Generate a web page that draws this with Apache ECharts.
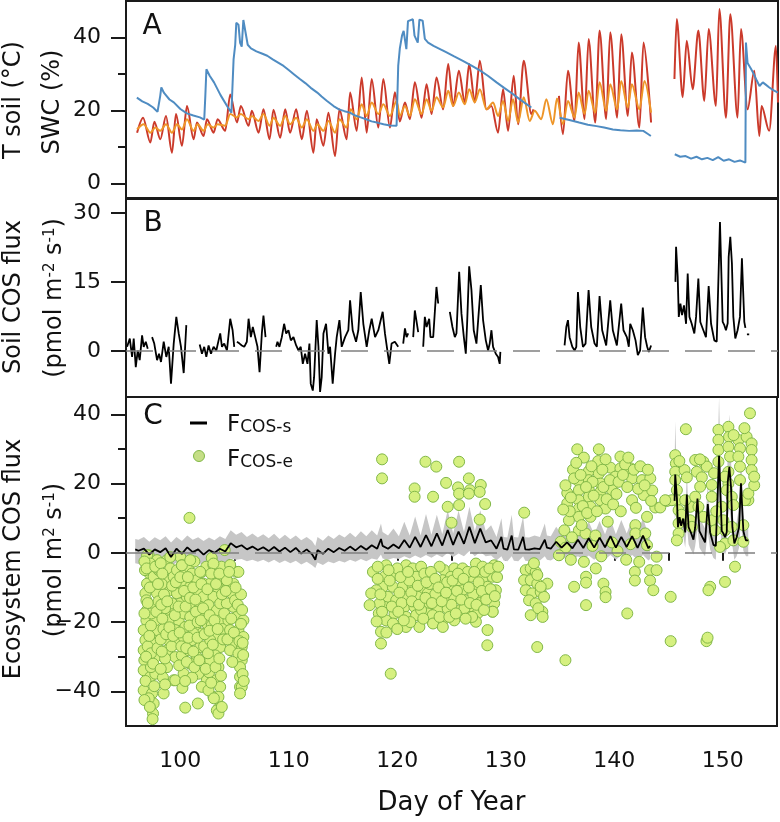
<!DOCTYPE html>
<html><head><meta charset="utf-8">
<script src="https://cdn.jsdelivr.net/npm/echarts@6/dist/echarts.min.js"></script>
<style>html,body{margin:0;padding:0;background:#fff}#c{width:780px;height:822px}</style>
</head><body><div id="c"></div>
<script>
// ---------- axis ticks ----------
const xMin = 95, xMax = 155;
const aTicks = [0, 20, 40], aMinor = [10, 30];
const bTicks = [0, 15, 30];
const cTicks = [-40, -20, 0, 20, 40], cMinor = [-30, -10, 10, 30];

// ---------- Panel A: SWC (blue), T soil (red, orange) ----------
const swcBlue = [[96.0,23.5],[96.5,22.5],[97.0,21.8],[97.5,20.8],[97.9,19.6],[98.05,19.5],[98.15,24.0],[98.25,26.3],[98.5,24.8],[99.0,23.0],[99.4,22.2],[100.0,20.4],[100.6,19.2],[101.2,18.6],[101.8,18.1],[102.2,17.5],[102.3,24.0],[102.4,31.3],[102.7,29.5],[103.1,27.7],[103.7,24.2],[104.3,21.2],[104.7,19.4],[104.85,19.2],[104.9,34.0],[105.05,38.0],[105.15,44.0],[105.35,43.5],[105.5,38.5],[105.65,37.5],[105.8,44.8],[105.95,45.0],[106.2,38.0],[106.5,37.0],[107.0,36.2],[107.5,35.6],[108.0,35.0],[108.5,34.0],[109.0,33.1],[109.5,32.2],[110.0,31.0],[110.5,29.8],[111.0,28.6],[111.5,27.5],[112.0,26.2],[112.6,24.9],[113.0,23.8],[113.5,22.6],[114.1,21.2],[114.6,20.3],[115.1,19.8],[115.6,19.4],[116.1,18.6],[116.6,18.1],[117.1,17.6],[117.6,17.0],[118.2,16.6],[118.7,16.2],[119.3,15.9],[119.9,15.8],[120.0,16.0],[120.05,32.2],[120.2,37.0],[120.4,40.5],[120.55,41.8],[120.8,36.8],[120.95,44.5],[121.05,45.0],[121.4,45.0],[121.55,40.5],[121.85,38.6],[122.0,44.9],[122.3,44.6],[122.5,39.6],[122.8,38.6],[123.3,37.7],[123.9,36.8],[124.5,35.9],[125.2,34.8],[126.0,33.6],[126.8,32.3],[127.6,30.9],[128.3,29.5],[129.1,27.7],[129.8,26.2],[130.6,24.5],[131.4,22.7],[132.3,20.8],[133.5,null],[134.9,18.0],[135.8,17.4],[136.7,16.7],[137.5,16.1],[138.3,15.7],[139.0,15.3],[139.8,14.8],[140.5,14.6],[141.3,14.4],[142.0,14.5],[142.6,14.4],[143.0,13.6],[143.3,13.0],[144.4,null],[145.5,8.0],[146.0,7.3],[146.5,7.5],[147.0,6.8],[147.5,7.3],[148.0,6.6],[148.5,7.0],[149.0,6.4],[149.5,7.2],[150.0,6.2],[150.5,6.6],[151.0,5.9],[151.5,6.3],[152.0,5.7],[152.05,38.6],[152.2,33.0],[152.5,31.5],[152.7,30.4],[153.0,28.5],[153.3,26.7],[153.6,27.7],[153.9,27.0],[154.2,26.3],[154.6,25.5],[155.0,24.9]];

const tSoilRed = [[96.02,13.9],[96.57,18.0],[97.24,11.2],[97.61,16.9],[98.16,12.1],[98.68,18.5],[99.23,8.4],[99.6,19.0],[100.15,10.3],[100.61,21.2],[101.22,12.1],[101.53,16.7],[102.14,13.0],[102.45,17.6],[103.06,13.9],[103.43,17.6],[104.13,14.4],[104.59,24.4],[105.21,16.7],[105.57,21.2],[106.28,15.8],[106.58,19.9],[107.2,13.9],[107.65,20.3],[108.21,12.1],[108.57,20.2],[109.19,12.5],[109.65,20.3],[110.1,13.9],[110.66,20.3],[111.18,12.1],[111.64,19.9],[112.25,8.4],[112.55,17.6],[113.17,10.3],[113.63,19.4],[114.24,7.5],[114.64,20.3],[115.31,12.1],[115.62,24.9],[116.23,14.4],[116.69,29.0],[117.15,13.9],[117.61,28.6],[118.22,15.3],[118.68,28.6],[119.29,15.3],[119.75,25.0],[120.2,17.0],[120.67,22.2],[121.13,17.6],[121.58,27.7],[122.2,18.0],[122.66,27.2],[123.12,19.0],[123.57,29.0],[124.19,20.3],[124.65,32.7],[125.11,21.2],[125.63,30.9],[126.18,22.2],[126.58,32.7],[127.1,22.2],[127.56,33.6],[128.17,20.3],[128.63,21.2],[129.24,13.9],[129.7,25.8],[130.16,14.4],[130.68,29.5],[131.08,16.2],[131.6,33.6],[132.3,19.0],[132.5,20.3],[133.6,null],[134.84,24.0],[135.21,13.5],[135.67,30.9],[136.28,17.1],[136.65,38.6],[137.2,17.6],[137.57,39.6],[138.18,16.7],[138.58,41.9],[139.19,17.6],[139.56,41.4],[140.2,18.0],[140.57,40.9],[141.18,18.5],[141.55,35.9],[142.25,15.3],[142.62,38.6],[143.32,16.7],[144.4,null],[145.47,28.6],[145.68,45.1],[146.23,23.6],[146.6,39.1],[147.15,25.8],[147.67,41.9],[148.22,22.6],[148.62,42.3],[149.29,21.2],[149.6,47.8],[150.21,18.0],[150.61,46.4],[151.28,18.0],[151.59,42.3],[152.2,20.3],[152.82,30.9],[153.28,13.0],[153.49,21.2],[154.19,14.4],[154.81,37.7],[155.0,22.2]];

const tSoilOrange = [[96.02,14.8],[96.63,16.2],[97.24,13.9],[97.7,15.3],[98.16,14.4],[98.68,16.2],[99.23,13.9],[99.69,16.2],[100.15,14.8],[100.61,17.6],[101.22,14.4],[101.59,16.2],[102.14,14.4],[102.51,16.2],[103.06,15.3],[103.43,16.2],[104.13,15.8],[104.59,19.0],[105.21,18.1],[105.57,19.0],[106.28,17.6],[106.58,18.5],[107.2,17.1],[107.65,19.0],[108.21,15.8],[108.57,18.0],[109.19,15.8],[109.65,18.5],[110.1,16.2],[110.66,18.0],[111.18,15.3],[111.64,17.6],[112.25,14.4],[112.61,16.2],[113.17,14.4],[113.63,17.1],[114.24,13.9],[114.64,17.6],[115.31,15.3],[115.68,20.3],[116.23,17.6],[116.69,21.7],[117.15,18.5],[117.61,22.2],[118.22,19.0],[118.68,21.7],[119.29,18.5],[119.9,22.6],[120.2,18.5],[120.67,21.2],[121.13,18.5],[121.58,23.1],[122.2,19.0],[122.66,23.1],[123.12,19.9],[123.57,23.6],[124.19,20.8],[124.65,25.4],[125.11,21.2],[125.63,24.9],[126.18,21.7],[126.58,25.8],[127.1,22.2],[127.56,25.8],[128.17,20.3],[128.78,22.2],[129.24,18.5],[129.7,22.6],[130.16,17.1],[130.62,23.1],[131.08,16.7],[131.6,23.6],[132.15,17.1],[132.61,19.9],[133.22,17.6],[133.68,23.1],[134.29,16.2],[134.66,23.3],[135.21,16.2],[135.67,22.6],[136.28,18.0],[136.65,24.9],[137.2,19.0],[137.57,25.4],[138.18,19.4],[138.58,27.7],[139.19,19.9],[139.56,27.2],[140.2,20.3],[140.57,28.1],[141.18,20.8],[141.55,27.2],[142.25,20.3],[142.71,28.1],[143.32,19.4]];

// ---------- Panel B: soil COS flux ----------
const soilFlux = [[95.1,0.9],[95.35,2.7],[95.56,-1.3],[95.71,2.7],[95.9,-3.5],[96.08,0.1],[96.26,-2.0],[96.48,3.4],[96.63,0.9],[96.82,2.0],[97.0,0.5],[97.2,null],
[97.4,3.0],[97.6,1.6],[97.86,-2.0],[98.04,-0.6],[98.22,-2.4],[98.47,2.0],[98.71,-1.3],[98.93,0.9],[99.14,-7.1],[99.39,1.6],[99.63,7.4],[99.85,3.8],[100.06,0.9],[100.31,-4.8],[100.55,5.6],[101.2,null],
[101.78,1.4],[101.99,-0.6],[102.2,0.9],[102.39,-1.3],[102.6,1.2],[102.82,-0.6],[103.06,0.9],[103.31,0.1],[103.52,2.3],[103.67,3.8],[103.83,0.9],[104.04,1.6],[104.29,0.1],[104.59,7.0],[104.81,4.5],[104.96,0.9],[105.1,null],
[105.21,2.0],[105.45,1.6],[105.66,1.2],[105.88,0.9],[106.12,2.0],[106.28,7.0],[106.49,3.0],[106.67,5.2],[106.89,3.0],[107.1,0.9],[107.29,-4.6],[107.5,3.8],[107.65,7.7],[107.84,3.0],[108.3,null],
[108.82,0.9],[108.94,2.0],[109.12,0.9],[109.34,3.0],[109.55,5.9],[109.74,3.8],[109.95,4.5],[110.17,2.3],[110.41,3.0],[110.66,1.2],[110.87,0.1],[111.08,0.9],[111.27,-2.8],[111.48,-0.6],[111.7,-2.8],[111.88,1.6],[112.0,-7.1],[112.19,-8.6],[112.31,-5.7],[112.55,6.7],[112.71,0.9],[112.86,-8.9],[113.01,-5.7],[113.17,3.8],[113.41,5.9],[113.63,-0.6],[113.78,0.9],[114.02,-7.1],[114.24,-0.6],[114.39,3.0],[114.64,6.7],[114.85,0.9],[115.16,3.0],[115.46,4.5],[115.62,11.0],[115.86,4.5],[116.17,2.0],[116.38,4.5],[116.6,12.8],[116.84,5.9],[117.15,0.9],[117.39,4.5],[117.61,7.0],[117.92,3.0],[118.22,4.5],[118.62,8.5],[118.83,3.8],[119.05,0.1],[119.23,-2.8],[119.44,1.6],[119.74,2.0],[120.05,0.9],[120.3,null],
[120.51,1.6],[120.67,4.9],[120.82,3.0],[120.97,3.8],[121.2,null],
[121.43,3.0],[121.58,8.8],[121.74,9.2],[121.89,4.1],[122.1,null],
[122.35,0.9],[122.5,7.4],[122.66,5.2],[122.9,7.0],[123.02,3.0],[123.27,3.0],[123.42,3.0],[123.57,13.9],[123.73,10.3],[124.3,null],
[124.8,8.5],[125.04,5.2],[125.26,3.0],[125.41,3.8],[125.66,17.2],[125.87,8.1],[126.09,3.0],[126.27,-0.6],[126.39,5.9],[126.58,18.4],[126.79,13.2],[127.0,4.5],[127.25,1.6],[127.43,7.4],[127.65,14.3],[127.86,6.7],[128.11,2.3],[128.32,0.1],[128.47,1.6],[128.63,4.5],[128.78,0.9],[129.03,-0.6],[129.24,-1.3],[129.39,-2.8],[129.45,-0.2],[132.0,null],
[135.36,1.2],[135.52,5.2],[135.67,6.7],[135.82,3.0],[136.07,0.9],[136.28,0.1],[136.44,0.9],[136.59,12.8],[136.8,5.2],[137.05,0.9],[137.29,1.6],[137.57,13.2],[137.81,5.2],[138.12,1.6],[138.33,0.9],[138.58,11.9],[138.82,4.5],[139.19,1.2],[139.37,0.9],[139.56,11.0],[139.8,4.5],[140.17,1.2],[140.35,1.6],[140.57,10.3],[140.78,4.5],[141.09,3.0],[141.27,0.9],[141.4,5.9],[141.64,4.5],[141.89,2.3],[142.1,-0.9],[142.31,0.1],[142.56,9.4],[142.77,3.0],[142.96,0.9],[143.11,-0.2],[143.32,1.2],[144.4,null],
[145.56,15.0],[145.62,22.6],[145.77,16.1],[145.87,7.4],[146.02,10.3],[146.17,7.8],[146.35,9.9],[146.54,5.9],[146.69,16.8],[146.85,7.4],[147.06,5.9],[147.3,3.8],[147.46,7.4],[147.67,15.7],[147.85,6.3],[148.13,4.5],[148.37,3.0],[148.62,14.1],[148.84,5.9],[149.14,2.3],[149.36,2.0],[149.66,28.0],[149.91,6.3],[150.06,5.6],[150.21,4.5],[150.37,6.0],[150.46,20.4],[150.61,24.8],[150.76,19.0],[150.89,7.4],[151.07,2.7],[151.28,4.5],[151.5,7.4],[151.68,20.1],[151.9,6.3],[152.0,5.0],[152.07,null],[152.14,3.6],[152.35,3.6]];

// ---------- Panel C: F_COS-s rows [day, value, band low, band high] ----------
const fcosS1 = [[95.85,1.0,-3.0,4.0],[96.15,0.6,-3.2,3.8],[96.65,1.2,-2.8,4.6],[97.15,-0.5,-3.5,3.2],[97.65,1.0,-2.9,4.5],[98.15,0.2,-3.3,3.6],[98.65,1.3,-2.7,4.8],[99.15,-1.2,-4.0,3.0],[99.65,1.2,-2.8,4.6],[100.15,-0.3,-3.4,3.4],[100.65,1.6,-2.6,5.0],[101.15,0.2,-3.2,3.8],[101.65,1.0,-2.8,4.5],[102.15,-0.5,-3.6,3.4],[102.65,0.8,-3.0,4.4],[103.15,0.0,-3.4,3.6],[103.65,1.2,-2.8,4.8],[104.15,0.4,-3.0,4.0],[104.65,2.8,-1.6,6.5],[105.15,1.6,-2.0,5.2],[105.65,2.2,-1.8,6.0],[106.15,1.0,-2.4,4.6],[106.65,1.8,-2.0,5.6],[107.15,0.8,-2.6,4.4],[107.65,1.6,-2.0,5.4],[108.15,0.5,-2.8,4.2],[108.65,1.7,-2.0,5.5],[109.15,0.4,-2.9,4.0],[109.65,1.5,-2.2,5.2],[110.15,0.2,-3.0,3.9],[110.65,1.4,-2.3,5.0],[111.15,-0.2,-3.4,3.6],[111.65,1.0,-2.6,4.6],[112.15,-0.4,-3.6,3.4],[112.45,-2.0,-4.4,2.0],[112.65,0.8,-2.8,4.6],[113.15,-0.3,-3.5,3.5],[113.65,1.2,-2.5,5.0],[114.15,0.2,-3.0,4.0],[114.65,1.4,-2.3,5.3],[115.15,0.6,-2.8,4.4],[115.65,1.8,-2.0,5.8],[116.15,0.7,-2.6,4.5],[116.65,2.0,-1.8,6.2],[117.15,0.9,-2.4,4.8],[117.65,2.2,-1.6,6.5],[118.15,1.2,-2.0,5.0],[118.5,4.0,-0.5,8.5],[118.65,2.0,-1.6,6.0],[119.15,1.2,-2.0,5.0],[119.65,2.4,-1.5,7.0],[120.15,1.3,-1.8,4.8],[120.65,3.7,-1.0,9.0],[121.15,1.5,-1.6,5.0],[121.65,4.6,-0.8,10.5],[122.15,1.7,-1.5,5.0],[122.65,5.1,-0.6,11.2],[123.15,1.9,-1.4,5.2],[123.65,5.6,-0.5,11.0],[124.15,2.1,-1.3,5.4],[124.65,6.6,0.0,12.3],[125.15,2.3,-1.2,5.6],[125.65,6.1,-0.2,12.2],[126.15,2.6,-1.0,6.0],[126.65,7.5,0.5,13.3],[127.15,2.8,-1.0,6.2],[127.65,7.0,0.3,12.3],[128.15,3.0,-1.0,6.4],[128.65,3.6,-0.8,8.0],[129.15,1.2,-2.2,4.6],[129.6,4.6,-1.0,10.0],[129.8,1.2,-2.2,4.6],[130.15,0.9,-2.4,4.4],[130.55,5.0,-1.0,11.0],[130.75,1.0,-2.3,4.6],[131.15,0.9,-2.4,4.4],[131.6,4.6,-1.0,10.5],[131.8,1.0,-2.3,4.5],[132.15,0.9,-2.4,4.4],[132.65,1.3,-2.0,5.0],[133.15,1.1,-2.2,4.6],[133.6,3.8,-1.0,8.5],[133.8,1.5,-2.0,5.0],[134.15,1.2,-2.2,4.8],[134.65,3.2,-1.2,7.5],[135.15,1.5,-2.0,5.2],[135.65,3.0,-1.2,7.5],[136.15,1.3,-2.1,5.0],[136.65,3.8,-1.0,8.4],[137.15,1.4,-2.0,5.2],[137.65,4.2,-0.8,9.0],[138.15,1.5,-2.0,5.4],[138.65,4.4,-0.8,9.2],[139.15,1.6,-1.9,5.4],[139.65,4.8,-0.6,9.6],[140.15,1.5,-2.0,5.4],[140.65,4.6,-0.7,9.5],[141.15,1.7,-1.9,5.6],[141.65,4.8,-0.6,9.8],[142.15,1.4,-2.0,5.4],[142.65,5.0,-0.6,10.2],[143.15,1.3,-2.2,5.0],[143.3,2.0,-1.8,5.6]];
const fcosS2 = [[145.56,15.0,8.0,25.0],[145.62,22.6,14.0,38.0],[145.77,16.1,8.0,22.0],[145.87,7.4,3.0,12.0],[146.02,10.3,5.0,14.0],[146.17,7.8,3.5,12.0],[146.35,9.9,5.0,13.5],[146.54,5.9,1.5,10.0],[146.69,16.8,8.0,24.0],[146.85,7.4,2.5,11.0],[147.06,5.9,1.0,9.5],[147.3,3.8,-0.5,8.0],[147.46,7.4,2.0,11.0],[147.67,15.7,7.0,22.0],[147.85,6.3,1.5,10.0],[148.13,4.5,0.0,8.5],[148.37,3.0,-1.0,7.0],[148.62,14.1,6.0,20.0],[148.84,5.9,1.0,10.0],[149.14,2.3,-1.5,6.5],[149.36,2.0,-2.0,6.0],[149.66,28.0,15.0,45.0],[149.91,6.3,1.0,12.0],[150.06,5.6,0.5,10.0],[150.21,4.5,-0.5,9.0],[150.37,6.0,1.0,12.0],[150.46,20.4,10.0,33.0],[150.61,24.8,13.0,40.0],[150.76,19.0,9.0,28.0],[150.89,7.4,2.0,12.0],[151.07,2.7,-2.0,7.0],[151.28,4.5,-1.0,9.0],[151.5,7.4,1.5,13.0],[151.68,20.1,9.0,30.0],[151.9,6.3,0.5,11.0],[152.0,5.0,0.0,9.0],[152.14,3.6,-1.0,8.0],[152.35,3.6,-1.0,7.0]];

// ---------- Panel C: F_COS-e (ecosystem flux points) ----------
const fcosE = [
[97.09,-0.7],[97.25,-3.6],[97.18,-6.0],[96.94,-8.9],[96.79,-11.7],[96.88,-13.7],[96.94,-16.6],[96.88,-19.5],[96.63,-22.3],[96.79,-25.2],[96.63,-28.1],[96.69,-31.0],[96.63,-33.9],[96.63,-39.7],[97.4,-40.6],[97.55,-43.5],[97.49,-46.4],[97.25,-35.8],[97.7,-34.9],[97.7,-30.1],[97.55,-25.2],[97.4,-23.3],[97.86,-22.3],[97.7,-19.5],[97.55,-15.6],[97.86,-11.7],[97.7,-8.9],[97.55,-6.9],[98.01,-5.0],[97.86,-2.1],
[97.0,-27.0],[97.3,-29.0],[96.8,-37.0],[97.1,-42.0],[97.6,-38.5],[97.9,-27.5],[98.0,-14.0],[97.35,-17.5],[96.75,-5.0],[97.45,-48.0],[98.47,-40.6],[99.39,-36.8],[100.46,-44.7],[101.62,-43.5],[103.06,-41.6],[103.52,-45.0],[105.51,-38.7],
[98.78,-2.1],[99.08,-4.5],[98.93,-7.9],[99.39,-6.9],[99.7,-5.0],[100.0,-1.2],[100.15,-3.6],[100.46,-5.5],[99.08,-10.8],[99.7,-11.7],[100.0,-14.6],[99.39,-15.6],[99.08,-18.5],[99.85,-19.5],[100.31,-17.5],[99.54,-22.3],[98.93,-25.2],[99.7,-26.2],[100.31,-24.3],[98.78,-28.1],[99.54,-30.1],[100.15,-29.6],[98.78,-33.0],[99.54,-36.8],[100.31,-34.9],[98.93,-19.5],[100.46,-21.4],[99.24,-14.6],[100.15,-8.9],[100.61,-12.7],
[98.5,-12.0],[98.6,-16.0],[98.45,-22.0],[98.6,-30.5],[99.2,-27.0],[99.9,-32.5],[100.2,-39.0],[98.3,-9.0],[98.4,-36.0],
[100.77,-4.0],[101.07,-6.0],[101.53,-7.9],[101.99,-5.5],[100.92,-9.8],[101.69,-11.3],[102.14,-12.7],[101.07,-14.6],[101.84,-15.6],[102.3,-18.5],[100.92,-18.5],[101.38,-21.4],[101.99,-23.3],[101.07,-25.2],[101.84,-27.2],[100.77,-28.1],[101.53,-30.1],[102.3,-31.5],[100.92,-32.0],[101.69,-34.9],[102.45,-36.8],[101.99,-38.7],[102.6,-39.7],[101.23,-23.3],[102.45,-20.4],[102.14,-8.9],
[101.3,-2.5],[100.85,-21.0],[101.45,-17.0],[102.2,-27.0],[101.1,-36.0],[102.4,-4.0],
[103.06,-3.6],[103.22,-6.4],[102.76,-8.9],[103.52,-10.3],[103.06,-12.7],[102.6,-15.1],[103.37,-16.6],[103.68,-19.5],[102.91,-20.9],[103.37,-24.3],[102.76,-25.2],[103.68,-27.2],[103.22,-29.6],[102.76,-31.0],[103.52,-33.0],[103.06,-36.8],[103.68,-38.7],[103.52,-41.6],[103.37,-45.5],[103.52,-46.4],[103.83,-44.5],[103.98,-8.4],[103.68,-14.6],
[102.9,-1.5],[103.8,-4.0],[103.9,-22.0],[102.65,-34.5],[103.1,-42.0],
[104.29,-8.4],[104.9,-8.9],[105.21,-5.5],[104.75,-11.7],[104.9,-15.6],[104.44,-19.5],[105.21,-18.5],[105.82,-19.5],[104.59,-22.3],[105.36,-22.3],[105.82,-24.3],[105.05,-26.2],[105.67,-27.2],[104.59,-28.1],[105.36,-29.1],[105.67,-31.0],[105.51,-33.0],[105.51,-35.8],[105.67,-38.7],[105.51,-40.6],[104.29,-14.6],[105.05,-13.7],
[104.1,0.8],[105.6,-12.0],[104.6,-3.5],[105.75,-35.0],[105.8,-29.5],[100.85,10.1],
[96.94,-0.7],[97.24,-3.1],[98.0,-4.5],[99.08,-1.2],[100.15,-3.6],[100.92,-2.1],[101.84,-5.5],[103.06,-3.1],[105.36,-5.5],[104.29,-7.9],
[96.7,-2.5],[96.9,-4.5],[97.2,-10.0],[97.0,-14.5],[97.3,-21.0],[96.7,-17.5],[97.15,-24.0],[96.85,-30.0],[97.3,-33.0],[97.5,-32.0],[97.8,-17.0],[97.95,-9.0],[97.7,-4.0],[98.2,-3.0],[98.35,-6.0],[98.25,-15.0],[98.35,-19.0],[98.2,-25.0],[98.3,-28.5],[98.2,-33.5],[98.6,-38.0],[98.7,-23.5],[98.8,-14.0],[99.0,-21.5],[99.25,-9.5],[99.35,-24.0],[99.5,-18.0],[99.6,-8.5],[99.85,-15.5],[99.95,-23.0],[100.1,-27.0],[100.0,-7.0],[100.35,-11.0],[100.5,-15.5],[100.55,-27.5],[100.6,-31.5],[100.45,-37.0],[100.7,-7.0],[100.75,-24.5],[100.9,-13.0],[101.2,-10.0],[101.2,-28.5],[101.3,-33.0],[101.4,-13.5],[101.6,-20.0],[101.6,-24.5],[101.75,-31.0],[101.9,-19.5],[101.95,-9.0],[102.1,-16.0],[102.25,-23.5],[102.35,-33.5],[102.5,-10.5],[102.55,-29.0],[102.7,-18.0],[102.7,-22.5],[102.85,-6.0],[102.85,-37.5],[103.0,-26.5],[103.15,-19.5],[103.25,-33.0],[103.3,-9.0],[103.45,-22.0],[103.6,-30.5],[103.6,-6.0],[103.75,-35.5],[103.85,-12.0],[103.95,-25.0],[104.05,-17.5],[104.2,-11.0],[104.35,-25.0],[104.5,-5.5],[104.7,-19.0],[104.8,-31.5],[104.95,-23.0],[105.1,-10.0],[105.3,-15.0],[105.45,-25.5],[105.6,-20.5],[105.7,-16.5],[105.85,-37.0],[105.75,-26.0],[96.7,-42.5],[97.2,-44.5],
[118.98,-3.6],[118.83,-6.9],[118.68,-9.8],[119.75,-6.4],[119.59,-9.8],[119.14,-12.7],[119.9,-13.7],[118.83,-15.6],[119.75,-17.5],[118.98,-19.5],[120.82,-3.6],[121.43,-4.5],[122.2,-4.0],[120.67,-6.9],[121.74,-6.9],[120.51,-9.8],[121.43,-9.8],[122.35,-10.3],[120.97,-12.7],[121.89,-12.7],[120.67,-15.6],[121.58,-15.6],[122.81,-11.7],[122.96,-14.6],[120.82,-18.5],[121.74,-18.0],[122.81,-17.5],[122.04,-21.4],[123.27,-19.9],[124.34,-5.0],[125.26,-4.5],[126.02,-4.5],[127.25,-3.1],[127.86,-4.0],[128.93,-3.6],[124.19,-7.9],[124.95,-6.9],[125.72,-7.9],[126.79,-6.9],[127.86,-7.4],[128.78,-6.9],[124.03,-10.8],[124.95,-10.3],[126.02,-10.8],[127.25,-10.3],[128.32,-9.8],[129.09,-10.8],[124.34,-13.7],[125.26,-13.2],[126.33,-13.7],[127.4,-12.7],[128.47,-12.7],[123.73,-16.6],[124.65,-16.1],[125.72,-16.6],[126.94,-15.6],[128.93,-14.6],[124.19,-19.5],[125.26,-19.5],[126.79,-18.5],[128.78,-17.0],[123.27,-18.0],[127.4,-17.5],[127.25,-19.9],[128.32,-22.3],
[119.4,-34.9],[118.5,-26.2],[118.5,-22.8],[119.6,-20.4],[120.8,-21.4],[123.3,-20.4],[124.2,-21.4],[126.9,-18.5],[128.3,-26.7],[128.8,-17.0],
[117.76,-5.5],[118.07,-10.8],[117.6,-11.7],[118.37,-14.6],[117.45,-15.1],[118.2,-7.5],[118.3,-17.5],[118.1,-19.8],
[119.3,-8.0],[120.2,-11.5],[120.0,-4.5],[121.1,-8.0],[122.5,-6.0],[123.0,-9.0],[123.5,-12.0],[123.9,-4.0],[125.0,-15.0],[126.5,-5.5],[127.6,-14.5],[128.1,-5.5],[129.2,-7.0],[122.2,-16.5],[121.2,-20.0],[126.2,-16.0],[127.0,-12.0],[125.5,-11.0],[124.6,-8.5],[119.0,-23.0],
[118.2,-4.0],[118.45,-12.0],[118.6,-17.0],[119.5,-15.5],[119.2,-5.0],[120.3,-7.0],[120.4,-14.5],[120.1,-17.0],[120.6,-19.5],[121.0,-5.5],[121.3,-11.5],[121.35,-14.0],[121.9,-9.5],[122.0,-15.0],[122.6,-13.0],[122.7,-8.5],[123.1,-5.5],[123.2,-14.5],[123.5,-7.5],[123.8,-10.0],[123.9,-18.5],[124.1,-14.0],[124.5,-11.5],[124.8,-18.5],[125.1,-8.0],[125.4,-17.5],[125.6,-6.0],[125.9,-13.5],[126.1,-7.5],[126.3,-19.0],[126.6,-10.0],[126.7,-14.5],[127.1,-5.5],[127.3,-15.0],[127.5,-8.5],[127.8,-11.0],[128.0,-16.5],[128.2,-13.5],[128.5,-4.5],[128.6,-10.5],[129.0,-12.5],[129.3,-4.0],[122.4,-19.0],[120.0,-22.0],
[118.6,27.0],[118.6,21.5],[122.6,26.3],[123.6,24.9],[125.7,26.3],[121.6,18.6],[121.6,16.2],[123.3,16.2],[124.5,20.2],[125.6,18.9],[125.7,17.1],[126.6,21.5],[126.7,18.1],[126.6,17.1],[127.7,19.6],[127.6,17.6],[124.65,13.3],[125.7,13.8],[128.1,14.1],[125.0,8.7],[127.6,9.6],
[131.84,-5.0],[132.3,-4.5],[132.76,-5.5],[131.69,-7.9],[132.3,-7.9],[132.91,-8.9],[131.84,-10.8],[132.45,-11.7],[133.22,-11.3],[132.15,-13.7],[132.76,-14.6],[133.53,-12.7],[133.83,-8.9],[132.3,-18.0],[133.37,-17.0],[133.22,-9.8],[132.91,-6.4],[131.7,11.6],[132.6,-3.0],[133.0,-16.0],[133.4,-18.5],[132.9,-27.2],
[136.59,29.9],[138.58,29.9],[138.52,26.5],[140.57,27.8],[139.65,24.6],[137.66,23.6],[136.68,20.8],[135.67,17.3],[135.67,14.3],[136.74,18.1],[136.74,15.2],[136.74,12.8],[136.74,10.4],[137.66,21.0],[137.66,18.1],[137.66,16.2],[138.58,22.9],[138.73,20.0],[138.73,17.6],[138.73,15.2],[137.81,13.3],[137.81,10.4],[139.19,12.8],[139.8,18.1],[140.57,24.4],[141.49,24.4],[141.64,21.5],[141.64,15.2],[142.56,21.0],[142.71,16.7],[143.32,21.5],[143.02,10.4],[143.78,13.1],[144.24,13.1],[144.86,15.0],[141.95,8.0],[141.95,5.6],[142.86,5.6],[143.02,2.2],[135.82,9.4],[135.06,3.2],[136.74,6.5],[137.35,5.6],[138.27,5.0],[135.4,6.5],[140.1,22.0],[139.2,27.0],[141.0,25.5],[136.2,24.0],[137.2,27.5],[138.0,20.5],[139.4,9.0],[140.6,12.0],[142.2,18.5],[143.5,18.0],[135.9,12.0],[137.0,8.0],
[135.3,12.5],[135.5,19.5],[136.0,16.0],[136.3,21.5],[136.5,26.0],[136.9,22.5],[137.1,13.5],[137.4,19.0],[137.5,11.5],[137.9,25.0],[138.1,16.5],[138.4,12.0],[138.9,24.0],[139.0,19.0],[139.3,15.5],[139.6,21.0],[139.9,14.0],[140.2,17.0],[140.4,20.5],[140.8,22.5],[141.2,19.0],[141.3,27.5],[141.8,24.0],[142.0,13.0],[142.4,25.0],[142.8,19.5],[143.1,24.0],[143.4,15.0],[135.5,1.5],[136.1,4.5],[138.0,2.0],[139.8,3.0],[141.5,2.5],
[134.9,-0.7],[136.3,-9.8],[137.2,-2.6],[137.4,-6.9],[137.4,-8.6],[137.4,-15.1],[138.3,-4.5],[139.0,-8.9],[139.2,-11.3],[139.2,-12.8],[141.9,-5.5],[141.9,-8.0],[142.3,-2.6],[143.3,-5.0],[143.3,-8.0],[143.6,-10.8],[143.9,-1.1],[143.9,-5.0],[135.5,-31.0],[141.2,-17.5],[136.0,-2.0],[138.8,-1.0],[140.3,0.5],[141.1,-2.0],
[145.62,28.2],[145.68,25.8],[145.62,23.4],[145.62,21.0],[145.77,18.1],[145.77,15.2],[145.93,12.3],[145.93,8.5],[145.93,5.6],[145.77,3.6],[146.6,35.7],[146.48,23.9],[146.69,21.8],[147.46,26.8],[148.22,26.3],[147.61,23.4],[148.07,21.8],[148.53,24.9],[147.92,19.1],[148.99,19.6],[149.6,35.5],[149.6,32.6],[149.6,29.7],[149.6,26.3],[150.52,36.4],[150.58,33.5],[150.52,30.6],[150.67,27.8],[150.52,23.4],[150.52,20.0],[151.44,32.6],[151.59,30.2],[151.44,27.8],[151.59,24.9],[151.59,21.0],[152.2,33.5],[152.66,31.6],[152.66,29.7],[152.66,26.8],[152.66,23.9],[152.51,40.3],[152.36,15.2],[150.21,22.0],[150.37,18.1],[149.91,13.3],[150.06,9.4],[150.21,6.5],[150.21,2.7],[150.98,3.6],[151.9,3.2],[151.13,-4.0],[150.21,-8.4],[148.84,-9.8],[148.68,-10.8],[148.99,9.4],[149.3,6.5],[149.75,1.7],[147.0,9.4],[147.15,7.5],[147.0,13.3],[145.31,15.2],[144.7,15.2],[146.54,15.2],[147.76,13.3],[147.46,16.2],[148.22,10.4],[148.99,16.2],[150.83,16.2],[150.98,13.8],[150.83,7.5],[152.05,15.2],[152.36,17.1],[145.2,-12.7],[145.2,-25.5],[148.5,-25.5],[148.6,-24.5],[146.0,26.5],[147.9,27.0],[149.2,23.0],[151.0,34.0],[152.0,36.0],[146.2,11.0],[149.4,12.0],[151.9,8.0],[152.9,19.5],[152.9,22.0]
];

// ---------- build chart ----------
const F = 'DejaVu Sans';
const INK = '#111';
const chart = echarts.init(document.getElementById('c'), null, {renderer: 'canvas'});

const gridBase = {left: 126, width: 652, show: true, borderColor: '#1a1a1a', borderWidth: 2, backgroundColor: 'transparent'};
const fmtMinus = v => String(v).replace('-', '\u2212');
function xAx(i, bottom) {
  const a = {type: 'value', gridIndex: i, min: xMin, max: xMax, splitLine: {show: false}, axisLine: {show: false}};
  if (!bottom) { a.axisTick = {show: false}; a.axisLabel = {show: false}; return a; }
  a.interval = 5;
  a.axisTick = {show: true, length: 8, lineStyle: {color: '#1a1a1a', width: 2}};
  a.axisLabel = {formatter: v => (v % 10 === 0 ? String(v) : ''), fontSize: 22, fontFamily: F, color: INK, margin: 24};
  a.name = 'Day of Year'; a.nameLocation = 'middle'; a.nameGap = 64;
  a.nameTextStyle = {fontSize: 26, fontFamily: F, color: INK};
  return a;
}
function yMajor(i, min, max, ticks) {
  return {type: 'value', gridIndex: i, min, max, position: 'left', splitLine: {show: false}, axisLine: {show: false},
    axisTick: {show: true, customValues: ticks, length: 15, lineStyle: {color: '#1a1a1a', width: 2}},
    axisLabel: {customValues: ticks, formatter: fmtMinus, margin: 25, fontSize: 22, fontFamily: F, color: INK}};
}
function yMinor(i, min, max, ticks) {
  return {type: 'value', gridIndex: i, min, max, position: 'left', splitLine: {show: false}, axisLine: {show: false},
    axisTick: {show: true, customValues: ticks, length: 8, lineStyle: {color: '#1a1a1a', width: 2}},
    axisLabel: {show: false}};
}
const lineS = (name, data, xi, yi, color, w, z, smooth) => ({name, type: 'line', data, xAxisIndex: xi, yAxisIndex: yi, showSymbol: false, symbol: 'none',
  connectNulls: false, smooth: smooth || false, smoothMonotone: 'x', lineStyle: {color, width: w}, z, silent: true, animation: false});
const zeroLine = (xi, yi) => ({type: 'line', data: [], xAxisIndex: xi, yAxisIndex: yi, z: 2, silent: true,
  markLine: {silent: true, symbol: 'none', label: {show: false}, animation: false,
    lineStyle: {color: '#808080', width: 1.6, type: [27, 16]}, data: [{yAxis: 0}]}});
// uncertainty band: one polygon per segment, positioned through the axis scales
const bandSegs = [fcosS1, fcosS2];
const bandSeries = {type: 'custom', xAxisIndex: 2, yAxisIndex: 3, z: 1, silent: true, clip: true,
  data: bandSegs.map((s, i) => [s[0][0], s[0][1], i]),
  encode: {x: 0, y: 1},
  renderItem: (params, api) => {
    const rows = bandSegs[api.value(2)];
    const upper = rows.map(r => api.coord([r[0], r[3]]));
    const lower = rows.slice().reverse().map(r => api.coord([r[0], r[2]]));
    return {type: 'polygon', shape: {points: upper.concat(lower)}, style: {fill: '#c6c6c6', stroke: null}};
  }};
const fcosSLine = fcosS1.map(r => [r[0], r[1]]).concat([[144.4, null]], fcosS2.map(r => [r[0], r[1]]));

const txt = (text, x, y, size, extra) => Object.assign({type: 'text', x, y, silent: true,
  style: Object.assign({text, fontSize: size, fontFamily: F, fill: INK, align: 'center', verticalAlign: 'middle', textAlign: 'center', textVerticalAlign: 'middle'}, extra || {})});
const sup = {s: {fontSize: 15, fontFamily: F, fill: INK, verticalAlign: 'top', lineHeight: 16}};
const sub = {b: {fontSize: 17, fontFamily: F, fill: INK, verticalAlign: 'bottom', lineHeight: 18}};
const R = Math.PI / 2;
const rot = e => { e.rotation = R; return e; };

const option = {
  animation: false,
  backgroundColor: '#fff',
  grid: [
    Object.assign({top: 1, height: 197}, gridBase),
    Object.assign({top: 199, height: 198}, gridBase),
    Object.assign({top: 397, height: 329}, gridBase)
  ],
  xAxis: [xAx(0, false), xAx(1, false), xAx(2, true)],
  yAxis: [
    yMajor(0, -4, 50, aTicks), yMinor(0, -4, 50, aMinor),
    yMajor(1, -10, 33, bTicks),
    yMajor(2, -50, 45, cTicks), yMinor(2, -50, 45, cMinor)
  ],
  series: [
    lineS('T soil (surface)', tSoilRed, 0, 0, '#cb3a2b', 2, 3, 0.3),
    lineS('T soil', tSoilOrange, 0, 0, '#ee9528', 2, 4, 0.3),
    lineS('SWC', swcBlue, 0, 0, '#4f8cc2', 2, 5),
    zeroLine(1, 2),
    lineS('Soil COS flux', soilFlux, 1, 2, '#000', 1.8, 4),
    bandSeries,
    zeroLine(2, 3),
    {name: 'F_COS-e', type: 'scatter', data: fcosE, xAxisIndex: 2, yAxisIndex: 3, symbol: 'circle', symbolSize: 11, z: 3, silent: true,
     itemStyle: {color: '#d6f080', borderColor: '#82b848', borderWidth: 1, opacity: 1}},
    lineS('F_COS-s', fcosSLine, 2, 3, '#000', 1.8, 4)
  ],
  graphic: {elements: [
    txt('A', 152, 27, 28), txt('B', 153, 224, 28), txt('C', 153, 417, 28),
    rot(txt('T soil (°C)', 14, 100, 24)), rot(txt('SWC (%)', 53, 102, 24)),
    rot(txt('Soil COS flux', 14, 297, 24)), rot(txt('(pmol m{s|-2} s{s|-1})', 55, 298, 24, {rich: sup})),
    rot(txt('Ecosystem COS flux', 14, 559, 24)), rot(txt('(pmol m{s|2} s{s|-1})', 55, 560, 24, {rich: sup})),
    {type: 'line', silent: true, shape: {x1: 190, y1: 423, x2: 207, y2: 423}, style: {stroke: '#000', lineWidth: 3}},
    {type: 'circle', silent: true, shape: {cx: 199, cy: 456, r: 5.5}, style: {fill: '#c5de86', stroke: '#82b848', lineWidth: 1}},
    txt('F{b|COS-s}', 227, 425, 23, {align: 'left', textAlign: 'left', rich: sub}),
    txt('F{b|COS-e}', 227, 460, 23, {align: 'left', textAlign: 'left', rich: sub})
  ]}
};
chart.setOption(option);
</script></body></html>
